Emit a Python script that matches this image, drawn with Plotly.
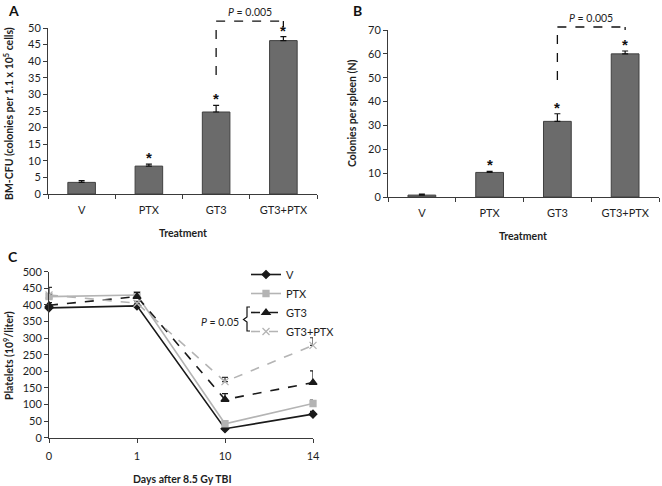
import plotly.graph_objects as go

# ---------------- data ----------------
groups = ["V", "PTX", "GT3", "GT3+PTX"]
bm_cfu = [3.5, 8.4, 24.7, 46.2]
bm_cfu_err = [0.5, 0.6, 2.0, 1.2]
spleen_cfu = [0.8, 10.3, 31.7, 60.0]
spleen_cfu_err = [0.4, 0.5, 3.2, 1.2]
starred = ["PTX", "GT3", "GT3+PTX"]

days = ["0", "1", "10", "14"]
plt_v = [391, 397, 27, 71]
plt_v_err = [4, 4, 3, 8]
plt_ptx = [425, 430, 42, 103]
plt_ptx_err = [6, 6, 4, 12]
plt_gt3 = [399, 425, 115, 166]
plt_gt3_err = [8, 13, 18, 35]
plt_combo = [430, 405, 169, 278]
plt_combo_err = [23, 6, 13, 23]

W, H = 662, 486
FONT = "Lato"
TXT = "#1e1e1e"
AX = "#3a3a3a"


def px(x):
    return x / W


def py(y):
    return 1 - y / H


fig = go.Figure()

# ---------------- panel A ----------------
fig.add_trace(go.Bar(
    x=groups, y=bm_cfu, width=0.41,
    marker=dict(color="#6b6b6b", line=dict(color="#404040", width=1)),
    error_y=dict(type="data", array=bm_cfu_err, arrayminus=[0] * 4, symmetric=False,
                 color="#111111", thickness=1.2, width=3),
    xaxis="x", yaxis="y", showlegend=False, cliponaxis=False,
))
# ---------------- panel B ----------------
fig.add_trace(go.Bar(
    x=groups, y=spleen_cfu, width=0.41,
    marker=dict(color="#6b6b6b", line=dict(color="#404040", width=1)),
    error_y=dict(type="data", array=spleen_cfu_err, arrayminus=[0] * 4, symmetric=False,
                 color="#111111", thickness=1.2, width=3),
    xaxis="x2", yaxis="y2", showlegend=False, cliponaxis=False,
))

# ---------------- panel C ----------------
series = [
    ("V", plt_v, plt_v_err, "#1a1a1a", "solid", "diamond", 6, "#1a1a1a"),
    ("PTX", plt_ptx, plt_ptx_err, "#b4b4b4", "solid", "square", 6, "#9a9a9a"),
    ("GT3", plt_gt3, plt_gt3_err, "#1a1a1a", "dash", "triangle-up", 7, "#1a1a1a"),
    ("GT3+PTX", plt_combo, plt_combo_err, "#b4b4b4", "dash", "x-thin-open", 7, "#333333"),
]
for name, vals, errs, col, dash, sym, size, ecol in series:
    fig.add_trace(go.Scatter(
        x=days, y=vals, name=name, mode="lines+markers",
        line=dict(color=col, width=1.6, dash=dash),
        marker=dict(symbol=sym, size=size, color=col, line=dict(color=col, width=1.3)),
        error_y=dict(type="data", array=errs, arrayminus=[0] * 4, symmetric=False,
                     color=ecol, thickness=1.2, width=3),
        xaxis="x3", yaxis="y3", cliponaxis=False,
    ))

tickfont = dict(family=FONT, size=11, color=TXT)


def xcat(domain, **kw):
    d = dict(domain=domain, type="category", showline=True, linecolor=AX, linewidth=1,
             ticks="outside", ticklen=4, tickcolor=AX, tickfont=tickfont, automargin=False,
             showgrid=False, zeroline=False, fixedrange=True)
    d.update(kw)
    return d


def yax(domain, anchor, rng, dtick):
    return dict(domain=domain, anchor=anchor, range=rng, dtick=dtick, showline=True,
                linecolor=AX, linewidth=1, ticks="outside", ticklen=4, tickcolor=AX,
                automargin=False, tickfont=tickfont, showgrid=False, zeroline=False)


fig.update_layout(
    width=W, height=H, margin=dict(l=0, r=0, t=0, b=0, autoexpand=False),
    paper_bgcolor="white", plot_bgcolor="white",
    font=dict(family=FONT, color=TXT),
    xaxis=xcat([px(48), px(317)], anchor="y", tickson="boundaries", ticklabelstandoff=6),
    yaxis=yax([py(194), py(28)], "x", [0, 50], 5),
    xaxis2=xcat([px(388), px(659)], anchor="y2", tickson="boundaries", ticklabelstandoff=6),
    yaxis2=yax([py(197), py(30)], "x2", [0, 70], 10),
    xaxis3=xcat([px(49), px(313)], anchor="y3", range=[0, 3], ticklabelstandoff=4),
    yaxis3=yax([py(437.7), py(271.7)], "x3", [0, 500], 50),
    legend=dict(x=px(246), y=py(260), xanchor="left", yanchor="top",
                font=dict(family=FONT, size=11, color=TXT), tracegroupgap=0,
                bgcolor="rgba(0,0,0,0)", itemwidth=30),
    showlegend=True,
)

C = dict(xanchor="center", yanchor="middle", showarrow=False)
ann = []
# asterisks
for xr, yr, vals, errs in [("x", "y", bm_cfu, bm_cfu_err), ("x2", "y2", spleen_cfu, spleen_cfu_err)]:
    for g, v, e in zip(groups, vals, errs):
        if g in starred:
            ann.append(dict(x=g, y=v + e, xref=xr, yref=yr, text="<b>*</b>", showarrow=False,
                            xanchor="center", yanchor="bottom", yshift=-4,
                            font=dict(family="Liberation Sans", size=15, color="#111111")))

# P value labels
ann.append(dict(x=2.5, y=1.096, xref="x", yref="y domain", text="<i>P</i> = 0.005",
                font=dict(family=FONT, size=10.5, color=TXT), **C))
ann.append(dict(x=2.5, y=1.07, xref="x2", yref="y2 domain", text="<i>P</i> = 0.005",
                font=dict(family=FONT, size=10.5, color=TXT), **C))
ann.append(dict(x=px(241), y=py(322), xref="paper", yref="paper", xanchor="right",
                yanchor="middle", text="<i>P</i> = 0.05", showarrow=False,
                font=dict(family=FONT, size=10.5, color=TXT)))

# axis titles
bold = dict(family=FONT, size=10.5, color=TXT)
ann += [
    dict(x=px(183), y=py(233), xref="paper", yref="paper", text="<b>Treatment</b>",
         font=bold, **C),
    dict(x=px(523), y=py(236), xref="paper", yref="paper", text="<b>Treatment</b>",
         font=bold, **C),
    dict(x=px(182), y=py(479), xref="paper", yref="paper", text="<b>Days after 8.5 Gy TBI</b>",
         font=bold, **C),
    dict(x=px(9), y=py(114), xref="paper", yref="paper", textangle=-90,
         text="<b>BM-CFU (colonies per 1.1 x 10<sup>5</sup> cells)</b>", font=bold, **C),
    dict(x=px(352), y=py(113), xref="paper", yref="paper", textangle=-90,
         text="<b>Colonies per spleen (N)</b>", font=bold, **C),
    dict(x=px(8), y=py(356), xref="paper", yref="paper", textangle=-90,
         text="<b>Platelets (10<sup>9</sup>/liter)</b>", font=bold, **C),
]
# panel letters
for t, x, y in [("A", 13, 11), ("B", 357, 10), ("C", 13, 256)]:
    ann.append(dict(x=px(x), y=py(y), xref="paper", yref="paper", text=f"<b>{t}</b>",
                    font=dict(family=FONT, size=14, color="#111111"), **C))
fig.update_layout(annotations=ann)

# significance brackets
dash_line = dict(color="#111111", width=1.3, dash="dash")
shapes = []
for xr, yr, ybot, ytop, yend in [("x", "y domain", 0.717, 1.042, 1.006),
                                  ("x2", "y2 domain", 0.70, 1.018, 1.0)]:
    shapes += [
        dict(type="line", xref=xr, yref=yr, x0="GT3", x1="GT3", y0=ybot, y1=ytop, line=dash_line),
        dict(type="line", xref=xr, yref=yr, x0="GT3", x1="GT3+PTX", y0=ytop, y1=ytop, line=dash_line),
        dict(type="line", xref=xr, yref=yr, x0="GT3+PTX", x1="GT3+PTX", y0=ytop, y1=yend, line=dash_line),
    ]
# curly bracket next to legend (P = 0.05)
shapes.append(dict(type="path", xref="paper", yref="paper",
                   path=(f"M {px(250)},{py(307)} L {px(247)},{py(307)} L {px(247)},{py(317)} "
                         f"L {px(243.5)},{py(319.5)} L {px(247)},{py(322)} L {px(247)},{py(331)} "
                         f"L {px(250)},{py(331)}"),
                   line=dict(color="#111111", width=1.2)))
fig.update_layout(shapes=shapes)

fig.write_html("out.html", config={"displayModeBar": False},
               post_script="document.body.style.margin='0px';")
